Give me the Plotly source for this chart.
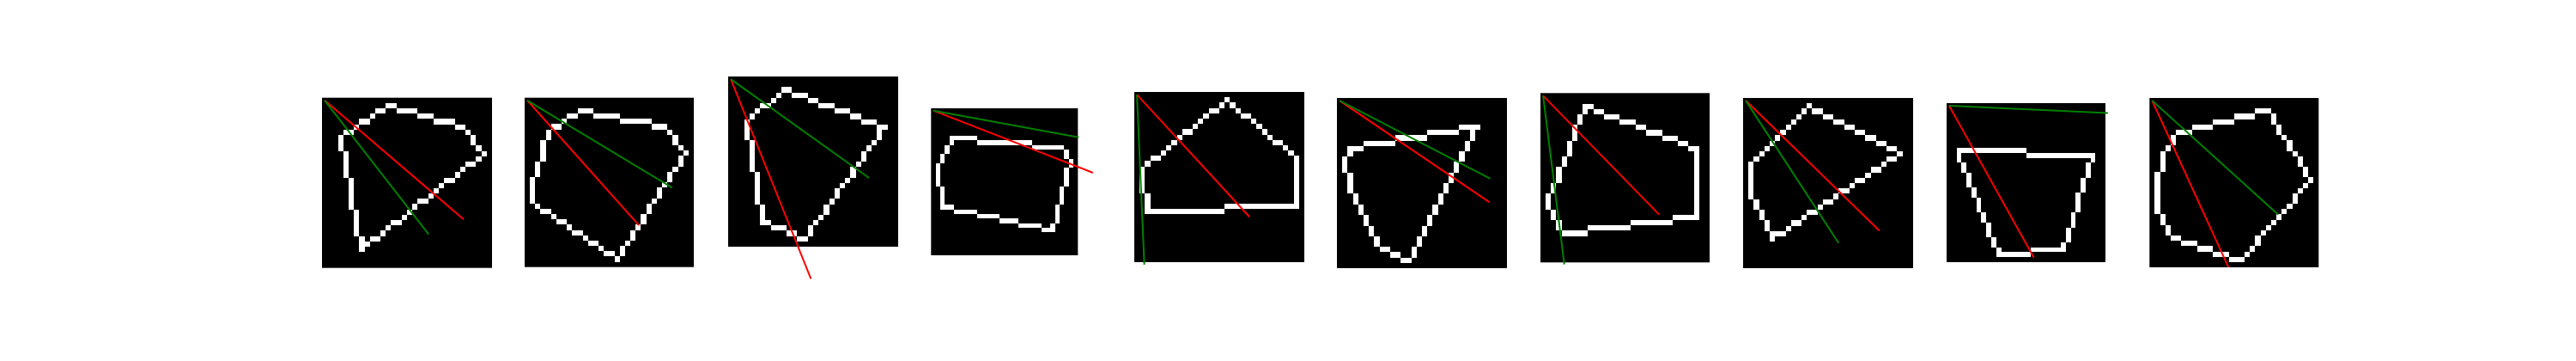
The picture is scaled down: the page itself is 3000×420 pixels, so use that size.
import numpy as np
import plotly.graph_objects as go

N = 32  # image size in pixels

# polygon outline vertices (col, row) for each of the 10 binary images
poly_1 = [(12, 1), (26, 5), (30, 10), (7, 28), (3, 7)]
poly_2 = [(10, 2), (26, 5), (30, 10), (17, 30), (2, 20), (1, 19), (1, 16), (4, 6)]
poly_3 = [(10, 2), (29, 9), (14, 30), (6, 27), (3, 8)]
poly_4 = [(4, 6), (28, 8), (30, 11), (26, 26), (2, 21), (1, 12)]
poly_5 = [(17, 1), (30, 12), (30, 21), (2, 22), (1, 14)]
poly_6 = [(2, 9), (26, 5), (13, 30), (12, 30), (8, 28), (2, 16), (1, 11)]
poly_7 = [(8, 2), (29, 10), (29, 23), (4, 26), (1, 21), (1, 20)]
poly_8 = [(12, 1), (29, 10), (5, 26), (2, 19), (1, 17), (1, 12)]
poly_9 = [(2, 9), (29, 10), (23, 29), (10, 30), (2, 10)]
poly_10 = [(5, 6), (22, 2), (30, 15), (17, 30), (16, 30), (4, 26), (1, 20), (1, 16), (2, 10)]
polygons = [poly_1, poly_2, poly_3, poly_4, poly_5, poly_6, poly_7, poly_8, poly_9, poly_10]

# line start (image origin) and end points, in image pixel coordinates
line_start = (0, 0)
red_end_x = [26.2, 21.1, 15.1, 34.7, 21.2, 28.2, 21.9, 25.2, 17.1, 14.4]
red_end_y = [22.4, 23.6, 37.6, 13.5, 23.0, 19.1, 22.4, 24.5, 30.6, 31.4]
green_end_x = [19.6, 27.4, 26.05, 31.6, 1.39, 28.4, 4.0, 17.5, 32.0, 23.8]
green_end_y = [25.2, 16.5, 18.6, 5.8, 32.0, 14.7, 31.8, 26.8, 1.5, 21.5]

# layout: image placement on the page (left px, top px, screen px per image pixel)
W, H = 3000, 420
PAGE_OFFSET = 8  # default body margin of the html page
boxes = [
    (375.0, 113.7, 6.18),
    (611.0, 113.7, 6.16),
    (848.0, 89.0, 6.18),
    (1084.3, 126.0, 5.355),
    (1321.0, 107.0, 6.18),
    (1557.0, 114.0, 6.18),
    (1794.0, 108.3, 6.17),
    (2030.0, 114.0, 6.18),
    (2267.0, 120.0, 5.78),
    (2503.3, 114.0, 6.17),
]


def bresenham(c0, r0, c1, r1):
    pts = []
    dc, dr = abs(c1 - c0), -abs(r1 - r0)
    sc = 1 if c0 < c1 else -1
    sr = 1 if r0 < r1 else -1
    err = dc + dr
    while True:
        pts.append((c0, r0))
        if c0 == c1 and r0 == r1:
            break
        e2 = 2 * err
        if e2 >= dr:
            err += dr
            c0 += sc
        if e2 <= dc:
            err += dc
            r0 += sr
    return pts


def outline_image(verts):
    img = np.zeros((N, N))
    for i in range(len(verts)):
        c0, r0 = verts[i]
        c1, r1 = verts[(i + 1) % len(verts)]
        for c, r in bresenham(c0, r0, c1, r1):
            img[r, c] = 1
    return img


fig = go.Figure()
layout = dict(
    width=W, height=H,
    margin=dict(l=0, r=0, t=0, b=0),
    paper_bgcolor="white", plot_bgcolor="rgba(0,0,0,0)",
    showlegend=False,
)

for k in range(10):
    ax = "" if k == 0 else str(k + 1)
    img = outline_image(polygons[k])
    fig.add_trace(go.Heatmap(
        z=img, x=np.arange(N), y=np.arange(N),
        colorscale=[[0, "#000000"], [1, "#ffffff"]], zmin=0, zmax=1,
        showscale=False, zsmooth=False, hoverinfo="skip",
        xaxis="x" + ax, yaxis="y" + ax,
    ))
    fig.add_trace(go.Scatter(
        x=[line_start[0], red_end_x[k]], y=[line_start[1], red_end_y[k]],
        mode="lines", line=dict(color="red", width=2),
        xaxis="x" + ax, yaxis="y" + ax, hoverinfo="skip",
    ))
    fig.add_trace(go.Scatter(
        x=[line_start[0], green_end_x[k]], y=[line_start[1], green_end_y[k]],
        mode="lines", line=dict(color="green", width=2),
        xaxis="x" + ax, yaxis="y" + ax, hoverinfo="skip",
    ))

    left, top, p = boxes[k]
    left -= PAGE_OFFSET
    top -= PAGE_OFFSET
    dl, dr = left - 20, left + 216
    xr = [(dl - left) / p - 0.5, (dr - left) / p - 0.5]
    yr = [(H - top) / p - 0.5, (0 - top) / p - 0.5]
    layout["xaxis" + ax] = dict(domain=[max(dl, 0) / W, min(dr, W) / W], range=xr,
                                visible=False, anchor="y" + ax, fixedrange=True)
    layout["yaxis" + ax] = dict(domain=[0, 1], range=yr, visible=False,
                                anchor="x" + ax, fixedrange=True)

fig.update_layout(**layout)
fig.write_html("out.html")
